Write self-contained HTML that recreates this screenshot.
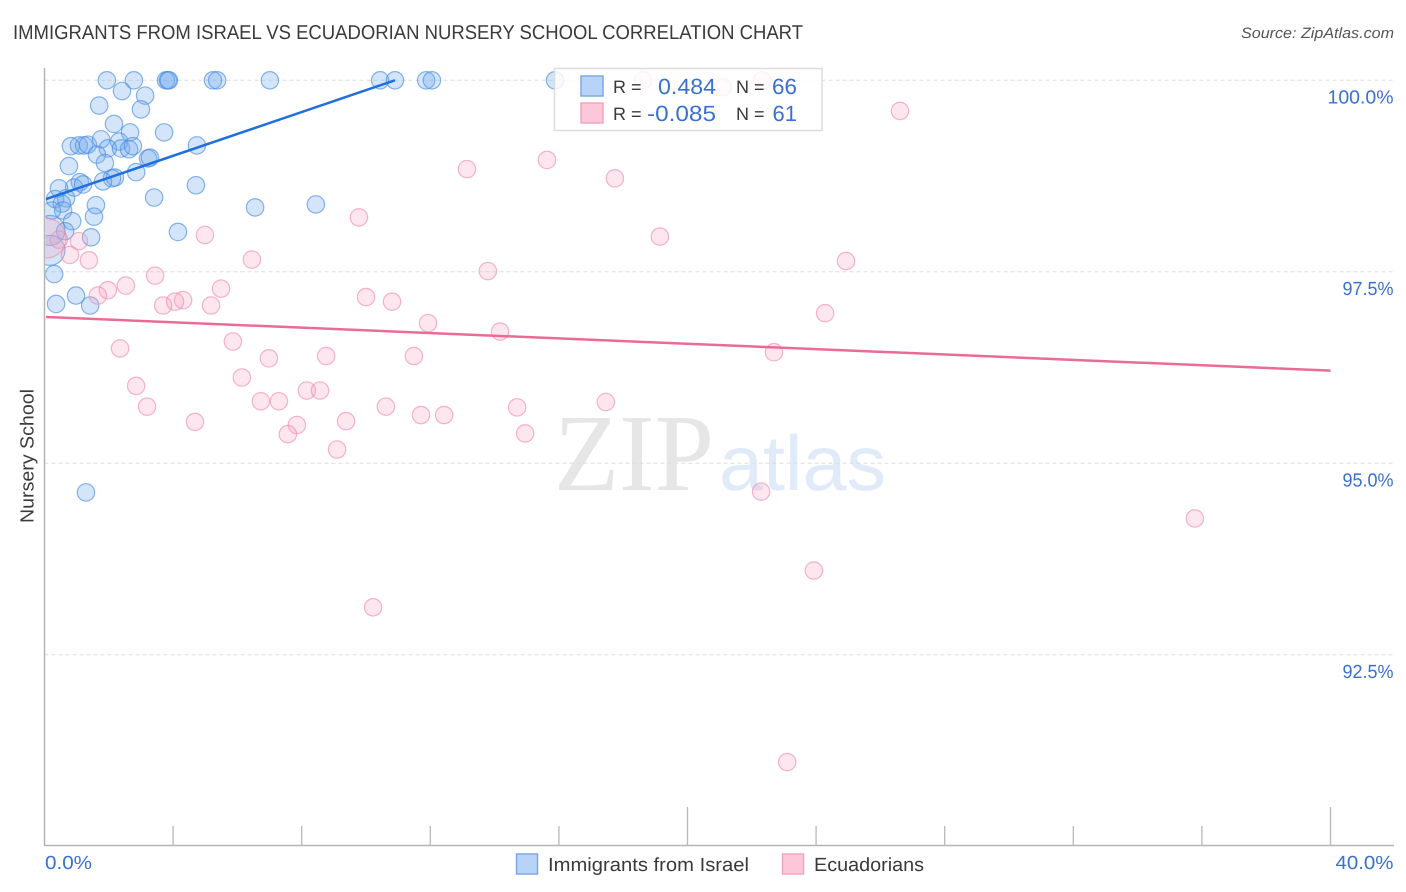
<!DOCTYPE html>
<html lang="en">
<head>
<meta charset="utf-8">
<title>Immigrants from Israel vs Ecuadorian Nursery School Correlation Chart</title>
<style>
html,body{margin:0;padding:0;background:#fff;width:1406px;height:892px;overflow:hidden}
svg{display:block;text-rendering:geometricPrecision}
text{font-family:"Liberation Sans",sans-serif}
</style>
</head>
<body>
<svg id="chart" xmlns="http://www.w3.org/2000/svg" width="1406" height="892" viewBox="0 0 1406 892">
  <rect x="0" y="0" width="1406" height="892" fill="#fff"/>
  <text x="13" y="39" font-size="20" fill="#3a3a3a" textLength="790" lengthAdjust="spacingAndGlyphs">IMMIGRANTS FROM ISRAEL VS ECUADORIAN NURSERY SCHOOL CORRELATION CHART</text>
  <text x="1394" y="38" font-size="15" font-style="italic" fill="#555" text-anchor="end" textLength="153" lengthAdjust="spacingAndGlyphs">Source: ZipAtlas.com</text>

  <g>
    <text x="554" y="490" font-size="110" fill="#e6e6e6" style="font-family:'Liberation Serif',serif" textLength="160" lengthAdjust="spacingAndGlyphs">ZIP</text>
    <text x="719" y="490" font-size="78" fill="#e0eaf9" textLength="167" lengthAdjust="spacingAndGlyphs">atlas</text>
  </g>

  <g id="grid"></g>
  <g id="axes"></g>
  <g id="ylabels"></g>
  <g id="xlabels"></g>
  <text x="0" y="0" transform="translate(33.5,456) rotate(-90)" font-size="19" fill="#3a3a3a" text-anchor="middle" textLength="134" lengthAdjust="spacingAndGlyphs">Nursery School</text>

  <defs>
    <clipPath id="plot-clip"><rect x="45.5" y="60" width="1349" height="785"/></clipPath>
  </defs>
  <g id="marks" clip-path="url(#plot-clip)"></g>

  <g>
    <rect x="554.5" y="68.5" width="267.5" height="62" fill="#fff" fill-opacity="0.82" stroke="#dcdcdc" stroke-width="1.5"/>
    <rect x="581" y="76" width="22" height="20" fill="#b7d3f7" stroke="#7fa9e0" stroke-width="1.5"/>
    <rect x="581" y="103" width="22" height="20" fill="#fcc8d9" stroke="#f3a6bf" stroke-width="1.5"/>
    <text x="613" y="93" font-size="18" fill="#3a3a3a">R =</text>
    <text x="716" y="94" font-size="22" fill="#3a70d2" text-anchor="end" textLength="58" lengthAdjust="spacingAndGlyphs">0.484</text>
    <text x="736" y="93" font-size="18" fill="#3a3a3a">N =</text>
    <text x="797" y="94" font-size="22" fill="#3a70d2" text-anchor="end" textLength="25" lengthAdjust="spacingAndGlyphs">66</text>
    <text x="613" y="120" font-size="18" fill="#3a3a3a">R =</text>
    <text x="716" y="121" font-size="22" fill="#3a70d2" text-anchor="end" textLength="69" lengthAdjust="spacingAndGlyphs">-0.085</text>
    <text x="736" y="120" font-size="18" fill="#3a3a3a">N =</text>
    <text x="797" y="121" font-size="22" fill="#3a70d2" text-anchor="end">61</text>
  </g>

  <g>
    <rect x="516.5" y="854" width="21" height="20" fill="#b7d3f7" stroke="#7fa9e0" stroke-width="1.5"/>
    <text x="548" y="871" font-size="19" fill="#3a3a3a" textLength="201" lengthAdjust="spacingAndGlyphs">Immigrants from Israel</text>
    <rect x="782.5" y="854" width="21" height="20" fill="#fcc8d9" stroke="#f3a6bf" stroke-width="1.5"/>
    <text x="814" y="871" font-size="19" fill="#3a3a3a" textLength="110" lengthAdjust="spacingAndGlyphs">Ecuadorians</text>
  </g>
</svg>

<script>
const yTickValues = [100, 97.5, 95, 92.5];
const yTickLabels = ["100.0%", "97.5%", "95.0%", "92.5%"];
const xTickValues = [0, 4, 8, 12, 16, 20, 24, 28, 32, 36, 40];
const xMajorTicks = [0, 20, 40];
const xLabelValues = ["0.0%", "40.0%"];

const israelX = [1.94,2.78,3.78,3.84,3.87,5.24,5.37,7.01,2.41,3.13,1.70,3.00,2.16,2.66,3.72,4.74,0.82,1.07,1.23,1.35,1.76,2.32,1.97,2.38,2.63,2.75,1.63,1.88,3.22,3.28,0.76,2.85,1.10,2.19,2.10,1.82,0.92,1.20,0.45,4.71,3.41,6.55,8.44,0.33,0.67,0.54,0.58,1.60,1.54,0.23,0.86,0.64,4.15,1.45,0.17,0.17,0.30,0.98,0.36,1.42,1.29,10.44,10.90,11.87,12.05,15.88];
const israelY = [100,100,100,100,100,100,100,100,99.86,99.80,99.67,99.62,99.43,99.32,99.32,99.15,99.14,99.15,99.15,99.16,99.23,99.20,99.11,99.11,99.10,99.14,99.03,98.92,98.98,98.99,98.88,98.80,98.67,98.73,98.72,98.68,98.60,98.64,98.59,98.63,98.47,98.34,98.38,98.45,98.46,98.39,98.30,98.37,98.22,98.30,98.16,98.03,98.02,97.95,98.04,97.78,97.47,97.19,97.08,97.06,94.62,100,100,100,100,100];

const ecuadorX = [18.62,21.10,22.32,26.61,15.63,13.14,17.74,9.78,4.99,19.14,6.45,24.93,13.79,3.44,2.53,5.49,1.97,1.66,10.00,10.81,4.31,4.06,3.69,5.18,24.28,11.93,14.17,5.86,2.35,22.69,6.98,8.76,11.49,6.14,2.85,8.16,8.57,6.73,7.29,3.19,10.62,14.70,17.46,11.71,12.43,9.38,4.68,7.85,7.57,14.95,9.10,22.29,35.78,23.93,10.22,23.10,0.45,1.07,0.79,1.38,0.05];
const ecuadorY = [100,99.91,100,99.60,98.96,98.84,98.72,98.21,97.98,97.96,97.66,97.64,97.51,97.45,97.32,97.28,97.26,97.19,97.17,97.11,97.13,97.11,97.06,97.06,96.96,96.83,96.72,96.59,96.50,96.45,96.37,96.40,96.40,96.12,96.01,95.95,95.95,95.81,95.81,95.74,95.74,95.73,95.80,95.63,95.63,95.55,95.54,95.50,95.38,95.39,95.18,94.63,94.28,93.60,93.12,91.10,97.92,97.90,97.72,97.65,97.94];

const israelTrendX = [0.05, 10.90];
const israelTrendY = [98.45, 100];
const ecuadorTrendX = [0.05, 40];
const ecuadorTrendY = [96.91, 96.21];

const SVG_NS = "http://www.w3.org/2000/svg";
function xScale(v) { return 44.5 + v * 32.15; }
function yScale(v) { return 80.3 + (100 - v) * 76.6; }
function make(tag, attrs, parent) {
  const el = document.createElementNS(SVG_NS, tag);
  for (const k in attrs) el.setAttribute(k, attrs[k]);
  parent.appendChild(el);
  return el;
}

const grid = document.getElementById("grid");
const axes = document.getElementById("axes");
const ylabels = document.getElementById("ylabels");
const xlabels = document.getElementById("xlabels");
const marks = document.getElementById("marks");

yTickValues.forEach(function (v, i) {
  const line = make("line", {x1: 44.5, x2: 1394, y1: yScale(v), y2: yScale(v), stroke: "#dedede", "stroke-width": 1, "stroke-dasharray": "4 3"}, grid);
  
  
  const label = make("text", {x: 1393.5, y: yScale(v) + 23, "font-size": 19, fill: "#3a70d2", "text-anchor": "end", textLength: v === 100 ? 66 : 51, lengthAdjust: "spacingAndGlyphs"}, ylabels);
  label.textContent = yTickLabels[i];
  
  
});

const yAxis = make("line", {x1: 44.5, x2: 44.5, y1: 68, y2: 846, stroke: "#b5b5b5", "stroke-width": 1.5}, axes);


const xAxis = make("line", {x1: 44, x2: 1394, y1: 845.5, y2: 845.5, stroke: "#b5b5b5", "stroke-width": 1.5}, axes);



xTickValues.forEach(function (v) {
  if (v === 0) return;
  const isMajor = xMajorTicks.indexOf(v) >= 0;
  const tick = make("line", {x1: xScale(v), x2: xScale(v), y1: isMajor ? 807 : 826, y2: 845.5, stroke: "#b9b9b9", "stroke-width": 1.3}, axes);
  
  
});

const xLabelLeft = make("text", {x: 45, y: 869, "font-size": 19, fill: "#3a70d2", textLength: 47, lengthAdjust: "spacingAndGlyphs"}, xlabels);
xLabelLeft.textContent = xLabelValues[0];


const xLabelRight = make("text", {x: 1393.5, y: 869, "font-size": 19, fill: "#3a70d2", "text-anchor": "end", textLength: 58, lengthAdjust: "spacingAndGlyphs"}, xlabels);
xLabelRight.textContent = xLabelValues[1];



function drawPoints(xs, ys, fill, stroke, fillOpacity, strokeOpacity, edgeRadius, name) {
  xs.forEach(function (x, i) {
    const r = x < 0.2 ? edgeRadius : 8.7;
    const c = make("circle", {cx: xScale(x), cy: yScale(ys[i]), r: r, fill: fill, "fill-opacity": fillOpacity, stroke: stroke, "stroke-opacity": strokeOpacity, "stroke-width": 1.2}, marks);
    
    
  });
}
function drawTrend(xs, ys, color, name) {
  const l = make("line", {x1: xScale(xs[0]), y1: yScale(ys[0]), x2: xScale(xs[1]), y2: yScale(ys[1]), stroke: color, "stroke-width": 2.5}, marks);
  
  
}

drawPoints(israelX, israelY, "#6fa9ee", "#4a8ddf", 0.3, 0.65, 15, "israel-point");
drawPoints(ecuadorX, ecuadorY, "#f8a3bf", "#ee86a8", 0.27, 0.6, 20, "ecuadorian-point");
drawTrend(israelTrendX, israelTrendY, "#1f6fdc", "israel-trend-line");
drawTrend(ecuadorTrendX, ecuadorTrendY, "#ea6b98", "ecuadorian-trend-line");
</script>
</body>
</html>
